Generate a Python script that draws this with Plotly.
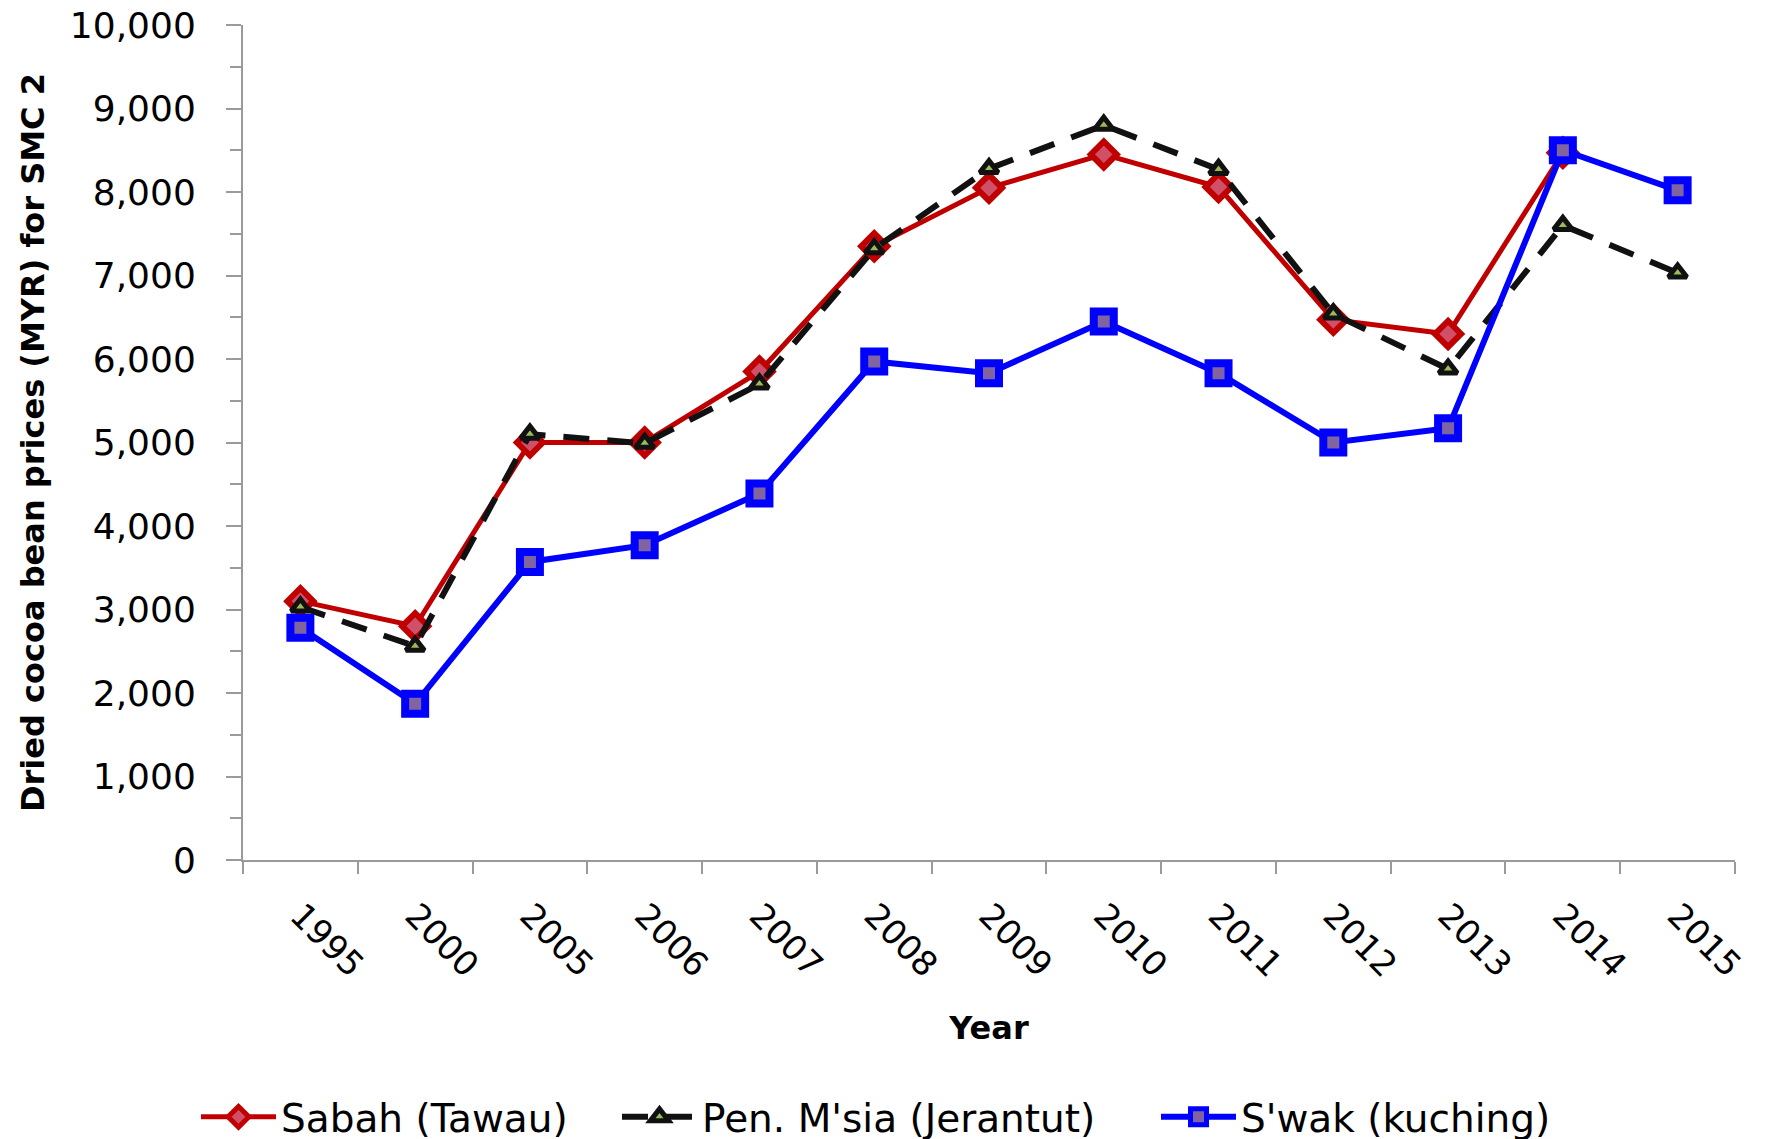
import plotly.graph_objects as go

years = ["1995", "2000", "2005", "2006", "2007", "2008", "2009", "2010", "2011", "2012", "2013", "2014", "2015"]
sabah = [3100, 2800, 5000, 5000, 5850, 7350, 8050, 8450, 8060, 6470, 6300, 8470, None]
pen = [3030, 2560, 5100, 4990, 5700, 7320, 8280, 8800, 8270, 6540, 5880, 7600, 7030]
swak = [2780, 1870, 3570, 3770, 4390, 5970, 5830, 6450, 5830, 5000, 5170, 8500, 8020]

series_names = ["Sabah (Tawau)", "Pen. M'sia (Jerantut)", "S'wak (kuching)"]
y_title = "Dried cocoa bean prices (MYR) for SMC 2"
x_title = "Year"

FONT = "DejaVu Sans"
AXC = "#9a9a9a"
W, H = 1770, 1139
OFF = 8  # page body margin
L, T = 243 - OFF, 25 - OFF
B = H - (860 - OFF)
R = W - (1735 - OFF)
PW = W - L - R
PH = H - T - B


def px_x(p):
    return (p - OFF - L) / PW


def px_y(p):
    return (H - B - (p - OFF)) / PH


fig = go.Figure()
fig.add_trace(go.Scatter(
    x=years, y=sabah, name=series_names[0], mode="lines+markers", legend="legend",
    line=dict(color="#C00000", width=5),
    marker=dict(symbol="diamond", size=20, color="#D0506A", line=dict(color="#C00000", width=6)),
))
fig.add_trace(go.Scatter(
    x=years, y=pen, name=series_names[1], mode="lines+markers", legend="legend2",
    line=dict(color="#111111", width=6, dash="26px,18px"),
    marker=dict(symbol="triangle-up", size=16, color="#9BBB59", line=dict(color="#111111", width=5)),
))
fig.add_trace(go.Scatter(
    x=years, y=swak, name=series_names[2], mode="lines+markers", legend="legend3",
    line=dict(color="#0000FF", width=6),
    marker=dict(symbol="square", size=20, color="#8064A2", line=dict(color="#0000FF", width=8)),
))

leg_common = dict(
    orientation="h", xanchor="left", yanchor="middle", y=px_y(1117),
    font=dict(family=FONT, size=39, color="black"),
    itemwidth=75, bgcolor="rgba(0,0,0,0)", borderwidth=0,
)

fig.update_layout(
    width=W, height=H,
    margin=dict(l=L, r=R, t=T, b=B, autoexpand=False),
    plot_bgcolor="white", paper_bgcolor="white",
    font=dict(family=FONT, color="black"),
    showlegend=True,
    legend=dict(x=px_x(196), **leg_common),
    legend2=dict(x=px_x(617), **leg_common),
    legend3=dict(x=px_x(1156), **leg_common),
    xaxis=dict(
        type="category", range=[-0.5, 12.5], automargin=False, ticklabeloverflow="allow",
        tickson="boundaries", ticks="outside", ticklen=12, tickwidth=2, tickcolor=AXC,
        showline=True, linecolor=AXC, linewidth=2, showgrid=False, zeroline=False,
        tickangle=45, tickfont=dict(family=FONT, size=34, color="black"),
        ticklabelstandoff=20,
        title=dict(text=x_title, font=dict(family=FONT, size=32, weight="bold"), standoff=33),
    ),
    yaxis=dict(
        range=[0, 10000], dtick=1000, tickformat=",", automargin=False, ticklabeloverflow="allow",
        ticks="outside", ticklen=15, tickwidth=2, tickcolor=AXC,
        showline=True, linecolor=AXC, linewidth=2, showgrid=False, zeroline=False,
        minor=dict(dtick=500, ticks="outside", ticklen=11, tickwidth=2, tickcolor=AXC, showgrid=False),
        tickfont=dict(family=FONT, size=36, color="black"),
        ticklabelstandoff=23,
        title=dict(text=y_title, font=dict(family=FONT, size=32, weight="bold"), standoff=16),
    ),
    yaxis2=dict(
        overlaying="y", side="left", anchor="x", range=[0, 10000], dtick=1000, automargin=False,
        ticks="inside", ticklen=15, tickwidth=2, tickcolor=AXC,
        showticklabels=False, showline=False, showgrid=False, zeroline=False,
    ),
)

fig.write_html("out.html")
